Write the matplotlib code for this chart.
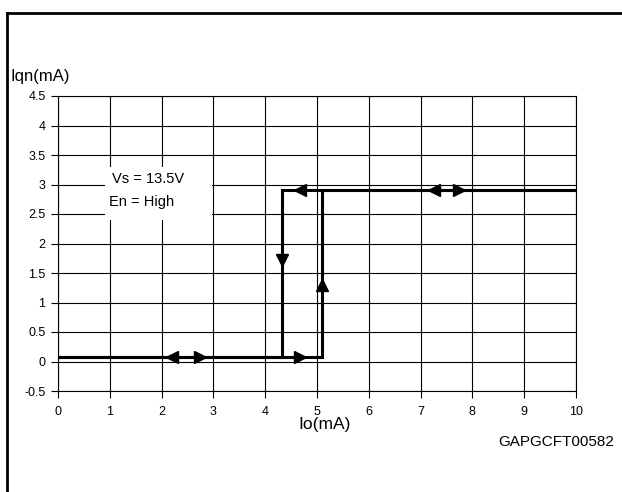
import matplotlib
matplotlib.use("Agg")
import matplotlib.pyplot as plt
from matplotlib.lines import Line2D
from matplotlib.patches import Rectangle

plt.rcParams['font.family'] = ['Liberation Sans', 'DejaVu Sans']

# Data
io_up = [0, 5.1, 5.1, 10]          # increasing Io path
iqn_up = [0.07, 0.07, 2.9, 2.9]
io_down = [10, 4.32, 4.32, 0]      # decreasing Io path
iqn_down = [2.9, 2.9, 0.07, 0.07]

arr_right_x = [2.75, 4.68, 7.75]
arr_right_y = [0.07, 0.07, 2.9]
arr_left_x = [2.2, 4.68, 7.25]
arr_left_y = [0.07, 2.9, 2.9]
arr_down_x = [4.32]
arr_down_y = [1.72]
arr_up_x = [5.1]
arr_up_y = [1.3]

xticks = list(range(0, 11))
yticks = [-0.5, 0, 0.5, 1, 1.5, 2, 2.5, 3, 3.5, 4, 4.5]
ytick_labels = ['-0.5', '0', '0.5', '1', '1.5', '2', '2.5', '3', '3.5', '4', '4.5']

fig = plt.figure(figsize=(6.22, 4.92), dpi=100)
ax = fig.add_axes([58/622, 101/492, (576-58)/622, (391-96)/492])

ax.plot(io_up, iqn_up, color='black', lw=2.2, solid_joinstyle='miter', zorder=3)
ax.plot(io_down, iqn_down, color='black', lw=2.2, solid_joinstyle='miter', zorder=3)

ms = 8
ax.plot(arr_right_x, arr_right_y, linestyle='none', marker='>', color='black', ms=ms, zorder=4)
ax.plot(arr_left_x, arr_left_y, linestyle='none', marker='<', color='black', ms=ms, zorder=4)
ax.plot(arr_down_x, arr_down_y, linestyle='none', marker='v', color='black', ms=ms, zorder=4)
ax.plot(arr_up_x, arr_up_y, linestyle='none', marker='^', color='black', ms=ms, zorder=4)

ax.set_xlim(0, 10)
ax.set_ylim(-0.5, 4.5)
ax.set_xticks(xticks)
ax.set_yticks(yticks)
ax.set_yticklabels(ytick_labels)
ax.grid(True, color='black', lw=0.8, zorder=1)
ax.set_axisbelow(True)
for s in ax.spines.values():
    s.set_color('black')
    s.set_linewidth(0.8)
ax.tick_params(axis='both', direction='out', length=5, width=0.8, labelsize=9)
ax.tick_params(axis='y', pad=4)
ax.tick_params(axis='x', pad=6)

# info box
box = Rectangle((0.91, 2.4), 2.07, 0.9, facecolor='white', edgecolor='none', zorder=2)
ax.add_patch(box)
ax.text(1.05, 3.1, 'Vs = 13.5V', fontsize=10.5, va='center', ha='left', zorder=5)
ax.text(0.99, 2.7, 'En = High', fontsize=10.5, va='center', ha='left', zorder=5)

fig.text(10/622, 1 - 76/492, 'Iqn(mA)', fontsize=12, va='center', ha='left')
fig.text(325/622, 1 - 425/492, 'Io(mA)', fontsize=12.5, va='center', ha='center')
fig.text(614/622, 1 - 442/492, 'GAPGCFT00582', fontsize=11, va='center', ha='right')

# outer frame lines
fig.add_artist(Line2D([7/622, 1], [1 - 13/492, 1 - 13/492], color='black', lw=2))
fig.add_artist(Line2D([7/622, 7/622], [0, 1 - 13/492], color='black', lw=2))

fig.savefig('out.png', dpi=100)
